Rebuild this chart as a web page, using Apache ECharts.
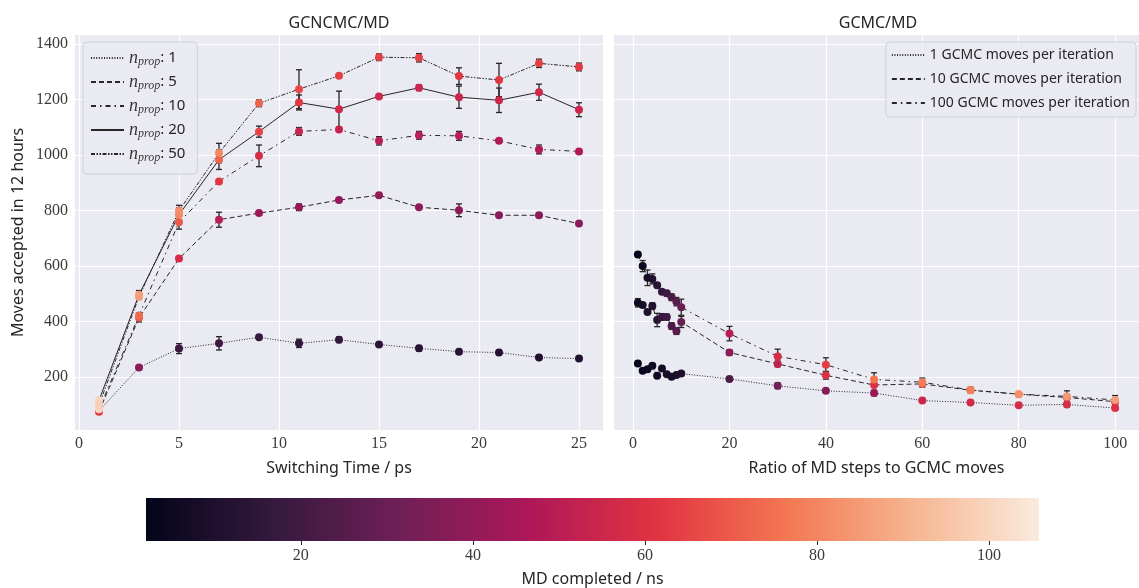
<!DOCTYPE html>
<html><head><meta charset="utf-8">
<title>GCNCMC/MD vs GCMC/MD</title>
<script src="https://cdn.jsdelivr.net/npm/echarts@6/dist/echarts.min.js"></script>
<style>html,body{margin:0;padding:0;background:#fff}#main{width:1139px;height:588px}</style>
</head>
<body>
<div id="main"></div>
<script>
// ---- left panel: moves accepted vs switching time ----
var switchTimes = [1, 3, 5, 7, 9, 11, 13, 15, 17, 19, 21, 23, 25];
var nprop1     = [79, 235, 303, 322, 344, 322, 335, 318, 304, 292, 289, 271, 267];
var nprop1Err  = [0, 0, 18, 24, 6, 15, 10, 5, 10, 8, 8, 5, 5];
var nprop1Md   = [104, 38, 19, 19, 17, 16, 16, 14, 13, 13, 12, 11, 11];
var nprop5     = [76, 414, 627, 767, 791, 812, 838, 855, 812, 801, 783, 783, 753];
var nprop5Err  = [0, 15, 8, 27, 5, 12, 8, 0, 6, 23, 5, 8, 0];
var nprop5Md   = [62, 70, 58, 50, 43, 41, 40, 40, 39, 39, 38, 38, 38];
var nprop10    = [85, 422, 758, 905, 997, 1085, 1092, 1051, 1071, 1069, 1051, 1020, 1013];
var nprop10Err = [0, 10, 25, 0, 39, 14, 0, 15, 14, 16, 6, 16, 5];
var nprop10Md  = [100, 74, 70, 62, 58, 54, 53, 50, 50, 50, 48, 48, 47];
var nprop20    = [117, 497, 785, 983, 1084, 1189, 1165, 1211, 1242, 1208, 1197, 1226, 1163];
var nprop20Err = [0, 15, 25, 35, 20, 27, 65, 0, 10, 40, 44, 29, 25];
var nprop20Md  = [100, 85, 80, 72, 65, 62, 56, 56, 55, 55, 55, 56, 55];
var nprop50    = [100, 490, 799, 1007, 1186, 1237, 1285, 1352, 1350, 1284, 1270, 1330, 1317];
var nprop50Err = [0, 10, 20, 35, 12, 70, 0, 12, 15, 30, 60, 15, 14];
var nprop50Md  = [98, 86, 82, 80, 72, 66, 64, 64, 64, 62, 62, 64, 63];

// ---- right panel: moves accepted vs MD/GCMC ratio ----
var ratios      = [1, 2, 3, 4, 5, 6, 7, 8, 9, 10, 20, 30, 40, 50, 60, 70, 80, 90, 100];
var gcmc1       = [249, 223, 229, 241, 205, 231, 211, 202, 208, 213, 194, 169, 151, 143, 116, 109, 99, 102, 89];
var gcmc1Err    = [0, 0, 0, 0, 0, 0, 0, 0, 0, 0, 0, 10, 8, 10, 0, 0, 0, 8, 8];
var gcmc1Md     = [3, 4, 5, 6, 6, 7, 8, 8, 9, 10, 22, 32, 36, 42, 55, 56, 58, 58, 60];
var gcmc10      = [468, 460, 435, 456, 406, 417, 417, 384, 366, 399, 289, 248, 207, 172, 176, 153, 139, 127, 112];
var gcmc10Err   = [15, 0, 0, 12, 24, 12, 10, 12, 12, 20, 10, 10, 14, 8, 12, 0, 0, 0, 0];
var gcmc10Md    = [5, 8, 10, 12, 14, 17, 19, 22, 25, 30, 38, 52, 60, 60, 72, 74, 82, 62, 62];
var gcmc100     = [642, 600, 558, 554, 531, 508, 502, 488, 472, 452, 357, 275, 245, 192, 182, 154, 139, 131, 118];
var gcmc100Err  = [0, 20, 28, 18, 8, 0, 10, 12, 15, 29, 26, 26, 25, 24, 15, 10, 0, 20, 16];
var gcmc100Md   = [3, 5, 8, 10, 13, 16, 19, 22, 26, 30, 50, 58, 64, 76, 78, 78, 82, 84, 86];

// ---- ticks / colour scale ----
var yTicks = [200, 400, 600, 800, 1000, 1200, 1400];
var leftXTicks = [0, 5, 10, 15, 20, 25];
var rightXTicks = [0, 20, 40, 60, 80, 100];
var cbarTicks = [20, 40, 60, 80, 100];
var mdRange = [2, 105.8];
var rocket = ['#03051A', '#35193E', '#701F57', '#AD1759', '#E13342', '#F37651', '#F6B48F', '#FAEBDD'];

var panels = [
  {name: 'nprop 1',  xs: switchTimes, v: nprop1,  e: nprop1Err,  md: nprop1Md,  dash: [1, 1.6], ax: 0},
  {name: 'nprop 5',  xs: switchTimes, v: nprop5,  e: nprop5Err,  md: nprop5Md,  dash: [5, 3], ax: 0},
  {name: 'nprop 10', xs: switchTimes, v: nprop10, e: nprop10Err, md: nprop10Md, dash: [5, 4, 1.5, 4], ax: 0},
  {name: 'nprop 20', xs: switchTimes, v: nprop20, e: nprop20Err, md: nprop20Md, dash: 'solid', ax: 0},
  {name: 'nprop 50', xs: switchTimes, v: nprop50, e: nprop50Err, md: nprop50Md, dash: [4, 1.5, 1.5, 1.5, 1.5, 1.5], ax: 0},
  {name: '1 GCMC moves per iteration',   xs: ratios, v: gcmc1,   e: gcmc1Err,   md: gcmc1Md,   dash: [1, 1.6], ax: 1},
  {name: '10 GCMC moves per iteration',  xs: ratios, v: gcmc10,  e: gcmc10Err,  md: gcmc10Md,  dash: [5, 3], ax: 1},
  {name: '100 GCMC moves per iteration', xs: ratios, v: gcmc100, e: gcmc100Err, md: gcmc100Md, dash: [5, 4, 1.5, 4], ax: 1}
];

var ink = '#262626';
var serif = "'Liberation Serif', 'DejaVu Serif', serif";
var sans = "'Noto Sans', sans-serif";

function renderErr(params, api) {
  var x = api.value(0);
  var p1 = api.coord([x, api.value(1)]);
  var p2 = api.coord([x, api.value(2)]);
  var st = {stroke: ink, lineWidth: 1.3};
  return {type: 'group', children: [
    {type: 'line', shape: {x1: p1[0], y1: p1[1], x2: p2[0], y2: p2[1]}, style: st},
    {type: 'line', shape: {x1: p1[0] - 3, y1: p1[1], x2: p1[0] + 3, y2: p1[1]}, style: st},
    {type: 'line', shape: {x1: p2[0] - 3, y1: p2[1], x2: p2[0] + 3, y2: p2[1]}, style: st}
  ]};
}

// colour bar drawn through the colour-bar axis
function renderBar(params, api) {
  var p1 = api.coord([api.value(0), 0]);
  var p2 = api.coord([api.value(1), 1]);
  var stops = rocket.map(function (c, i) { return {offset: i / (rocket.length - 1), color: c}; });
  return {type: 'rect', shape: {x: p1[0], y: p2[1], width: p2[0] - p1[0], height: p1[1] - p2[1]},
    style: {fill: new echarts.graphic.LinearGradient(0, 0, 1, 0, stops)}};
}

var series = [];
panels.forEach(function (p) {
  series.push({
    name: p.name, type: 'line', xAxisIndex: p.ax, yAxisIndex: p.ax,
    data: p.xs.map(function (x, i) { return [x, p.v[i]]; }),
    symbol: 'none', silent: true, z: 2,
    lineStyle: {color: ink, width: 1, type: p.dash}, itemStyle: {color: ink}
  });
});
panels.forEach(function (p) {
  var d = [];
  p.xs.forEach(function (x, i) { if (p.e[i] > 0) d.push([x, p.v[i] - p.e[i], p.v[i] + p.e[i]]); });
  series.push({type: 'custom', xAxisIndex: p.ax, yAxisIndex: p.ax, data: d, z: 3,
    renderItem: renderErr, encode: {x: 0, y: [1, 2]}, silent: true});
});
var scatterIdx = [];
panels.forEach(function (p) {
  scatterIdx.push(series.length);
  series.push({type: 'scatter', xAxisIndex: p.ax, yAxisIndex: p.ax, z: 4, symbolSize: 8,
    data: p.xs.map(function (x, i) { return [x, p.v[i], p.md[i]]; }),
    itemStyle: {opacity: 1}, silent: true});
});
series.push({type: 'custom', xAxisIndex: 2, yAxisIndex: 2, data: [mdRange], renderItem: renderBar,
  encode: {x: [0, 1]}, silent: true});

function plain(v) { return String(v); }
var tickLabel = {fontFamily: serif, fontSize: 16, color: '#3a3a3a', formatter: plain};
function valueX(grid, min, max, ticks, name) {
  return {type: 'value', gridIndex: grid, min: min, max: max,
    axisLine: {show: false}, axisTick: {show: false, customValues: ticks},
    axisLabel: Object.assign({customValues: ticks, margin: 6}, tickLabel),
    splitLine: {show: true, lineStyle: {color: '#ffffff', width: 1.2}},
    name: name, nameLocation: 'middle', nameGap: 30,
    nameTextStyle: {fontFamily: sans, fontSize: 16, color: ink}};
}

var option = {
  animation: false,
  backgroundColor: '#ffffff',
  graphic: [
    {type: 'text', x: 339, y: 23, style: {text: 'GCNCMC/MD', align: 'center', verticalAlign: 'middle', font: '16px "Noto Sans"', fill: ink}},
    {type: 'text', x: 878, y: 23, style: {text: 'GCMC/MD', align: 'center', verticalAlign: 'middle', font: '16px "Noto Sans"', fill: ink}}
  ],
  grid: [
    {left: 75, top: 35, width: 528, height: 395, show: true, backgroundColor: '#EAEAF2', borderWidth: 0},
    {left: 614, top: 35, width: 528, height: 395, show: true, backgroundColor: '#EAEAF2', borderWidth: 0},
    {left: 146, top: 498, width: 893, height: 43}
  ],
  xAxis: [
    valueX(0, -0.2, 26.2, leftXTicks, 'Switching Time / ps'),
    valueX(1, -3.95, 104.95, rightXTicks, 'Ratio of MD steps to GCMC moves'),
    {type: 'value', gridIndex: 2, min: mdRange[0], max: mdRange[1], splitLine: {show: false},
      axisLine: {show: false},
      axisTick: {show: true, customValues: cbarTicks, length: 4, lineStyle: {color: ink, width: 1}},
      axisLabel: Object.assign({customValues: cbarTicks, margin: 7}, tickLabel),
      name: 'MD completed / ns', nameLocation: 'middle', nameGap: 30,
      nameTextStyle: {fontFamily: sans, fontSize: 16, color: ink}}
  ],
  yAxis: [
    {type: 'value', gridIndex: 0, min: 10, max: 1432,
      axisLine: {show: false}, axisTick: {show: false, customValues: yTicks},
      axisLabel: Object.assign({customValues: yTicks, margin: 7}, tickLabel),
      splitLine: {show: true, lineStyle: {color: '#ffffff', width: 1.2}},
      name: 'Moves accepted in 12 hours', nameLocation: 'middle', nameGap: 49,
      nameTextStyle: {fontFamily: sans, fontSize: 16, color: ink}},
    {type: 'value', gridIndex: 1, min: 10, max: 1432,
      axisLine: {show: false}, axisTick: {show: false, customValues: yTicks},
      axisLabel: {show: false, customValues: yTicks},
      splitLine: {show: true, lineStyle: {color: '#ffffff', width: 1.2}}},
    {type: 'value', gridIndex: 2, min: 0, max: 1, show: false}
  ],
  visualMap: {
    type: 'continuous', show: false, dimension: 2, seriesIndex: scatterIdx,
    min: mdRange[0], max: mdRange[1], inRange: {color: rocket}
  },
  legend: [
    {data: panels.slice(0, 5).map(function (p) { return p.name; }),
      orient: 'vertical', left: 83, top: 42, itemWidth: 33, itemHeight: 14, itemGap: 5,
      padding: [7, 12, 10, 7], backgroundColor: 'rgba(234,234,242,0.85)',
      borderColor: '#d0d0d8', borderWidth: 1, borderRadius: 4,
      itemStyle: {opacity: 0},
      formatter: function (n) { return '{i|n}{s|prop}{t|: ' + n.split(' ')[1] + '}'; },
      textStyle: {color: ink, rich: {
        i: {fontFamily: serif, fontStyle: 'italic', fontSize: 18, color: '#3a3a3a'},
        s: {fontFamily: serif, fontStyle: 'italic', fontSize: 12, color: '#3a3a3a', padding: [8, 0, 0, 0]},
        t: {fontFamily: sans, fontSize: 15, color: ink}
      }}},
    {data: panels.slice(5).map(function (p) { return p.name; }),
      orient: 'vertical', right: 3, top: 42, itemWidth: 33, itemHeight: 14, itemGap: 10,
      padding: [6, 6, 7, 5], backgroundColor: 'rgba(234,234,242,0.85)',
      borderColor: '#d0d0d8', borderWidth: 1, borderRadius: 4,
      itemStyle: {opacity: 0},
      textStyle: {fontFamily: sans, fontSize: 14, color: ink}}
  ],
  series: series
};

var chart = echarts.init(document.getElementById('main'));
chart.setOption(option);
</script>
</body>
</html>
